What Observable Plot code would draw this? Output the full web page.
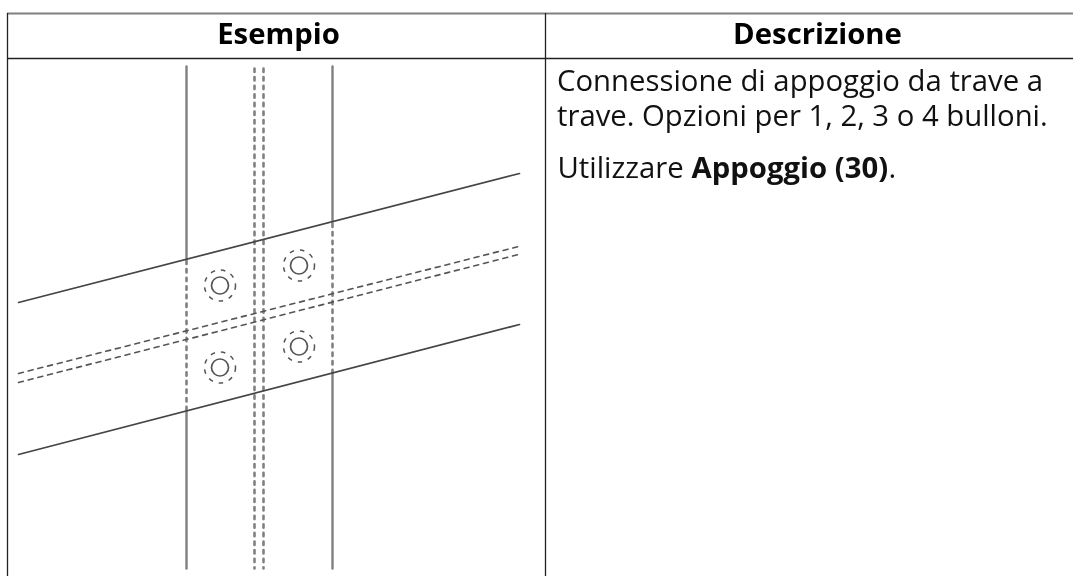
<!DOCTYPE html>
<html lang="it">
<head>
<meta charset="utf-8">
<script src="https://cdn.jsdelivr.net/npm/d3@7"></script>
<script src="https://cdn.jsdelivr.net/npm/@observablehq/plot@0.6"></script>
<style>
html,body{margin:0;padding:0;background:#fff;overflow:hidden}
svg{display:block}
svg g[aria-label="line"], svg g[aria-label="dot"]{filter:blur(0.65px)}
svg g[aria-label="text"]{filter:blur(0.3px)}
</style>
</head>
<body>
<div id="chart"></div>
<script>
// Table
const tableTop = [13];
const headerBottom = [58];
const columnRules = [7, 545];
const tableXExtent = [7, 1073];
const tableBottom = 576;
const headers = ["Esempio", "Descrizione"];
const headerCenters = [278, 817];
const headerBaseline = 43;
// Description text
const descLines = ["Connessione di appoggio da trave a", "trave. Opzioni per 1, 2, 3 o 4 bulloni."];
const descBaselines = [90, 125];
const useRuns = ["Utilizzare ", "Appoggio (30)", "."];
const useRunX = [557, 691, 888];
const useRunWeight = ["normal", "bold", "normal"];
const useBaseline = 177;
const textLeft = 556.5;
// Drawing: vertical members
const solidSegments = [
  [[186, 66], [186, 258]], [[186, 410], [186, 568]],
  [[332, 66], [332, 221]], [[332, 373], [332, 568]]
];
const dottedSegments = [
  [[254, 68], [254, 568]], [[263, 68], [263, 568]],
  [[186, 260], [186, 410]], [[332, 223], [332, 373]]
];
// Drawing: sloped members
const beamLines = [
  [[18, 302], [519, 173]],
  [[18, 454], [519, 324]]
];
const beamHidden = [
  [[18, 373], [518, 246]],
  [[18, 382], [518, 254]]
];
// Bolts
const boltX = [219.5, 298.5, 219.5, 298.5];
const boltY = [285, 265, 367, 346];

const W = 1073, H = 576;
const FONT = "'Open Sans', sans-serif";
const SIZE = 29.3;
const seg = (list) => list.flatMap((s, i) => s.map(([x, y]) => ({x, y, i})));
const bolts = boltX.map((x, i) => ({x, y: boltY[i]}));

const plot = Plot.plot({
  width: W, height: H,
  margin: 0, marginTop: 0, marginRight: 0, marginBottom: 0, marginLeft: 0,
  x: {domain: [0, W], range: [0, W], axis: null},
  y: {domain: [0, H], range: [0, H], axis: null},
  style: {background: "#fff"},
  marks: [
    Plot.line(seg(solidSegments), {x: "x", y: "y", z: "i", stroke: "#808080", strokeWidth: 2.4}),
    Plot.line(seg(dottedSegments), {x: "x", y: "y", z: "i", stroke: "#808080", strokeWidth: 2.6, strokeDasharray: "3.4 5.2"}),
    Plot.line(seg(beamLines), {x: "x", y: "y", z: "i", stroke: "#444", strokeWidth: 1.7}),
    Plot.line(seg(beamHidden), {x: "x", y: "y", z: "i", stroke: "#555", strokeWidth: 1.6, strokeDasharray: "5 5"}),
    Plot.dot(bolts, {x: "x", y: "y", r: 8.5, stroke: "#555", strokeWidth: 1.7, fill: "none"}),
    Plot.dot(bolts, {x: "x", y: "y", r: 15.5, stroke: "#555", strokeWidth: 1.5, fill: "none", strokeDasharray: "4.5 6"}),
    Plot.ruleY(tableTop, {x1: tableXExtent[0], x2: tableXExtent[1], y: d => d, stroke: "#808080", strokeWidth: 2}),
    Plot.ruleY(headerBottom, {x1: tableXExtent[0], x2: tableXExtent[1], y: d => d, stroke: "#222", strokeWidth: 1.3}),
    Plot.ruleX(columnRules, {x: d => d, y1: tableTop[0], y2: tableBottom, stroke: "#222", strokeWidth: 1.3}),
    Plot.text(headers, {x: (d, i) => headerCenters[i], y: () => headerBaseline, text: d => d, textAnchor: "middle", lineAnchor: "bottom", fontFamily: FONT, fontWeight: "bold", fontSize: SIZE, fill: "#000"}),
    Plot.text(descLines, {x: () => textLeft, y: (d, i) => descBaselines[i], text: d => d, textAnchor: "start", lineAnchor: "bottom", fontFamily: FONT, fontSize: SIZE, fill: "#111"}),
    ...useRuns.map((r, i) => Plot.text([r], {x: () => useRunX[i], y: () => useBaseline, text: d => d, textAnchor: "start", lineAnchor: "bottom", fontFamily: FONT, fontWeight: useRunWeight[i], fontSize: SIZE, fill: "#111"}))
  ]
});
document.getElementById("chart").append(plot);
</script>
</body>
</html>
